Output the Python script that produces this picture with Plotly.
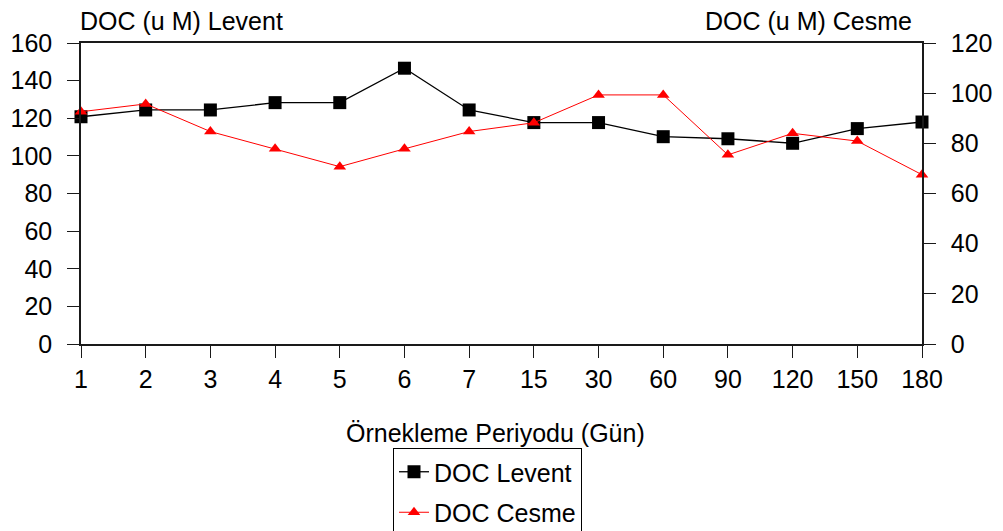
import plotly.graph_objects as go

periods = ["1", "2", "3", "4", "5", "6", "7", "15", "30", "60", "90", "120", "150", "180"]
levent = [120.8, 124.4, 124.4, 128.3, 128.3, 146.6, 124.4, 117.7, 117.7, 110.2, 109.1, 106.7, 114.5, 118.0]
cesme = [92.6, 95.7, 84.7, 77.8, 70.7, 77.8, 84.7, 88.2, 99.3, 99.3, 75.4, 84.0, 80.9, 67.5]

left_ticks = [0, 20, 40, 60, 80, 100, 120, 140, 160]
right_ticks = [0, 20, 40, 60, 80, 100, 120]

FONT = "Liberation Sans, Arial, sans-serif"
FS = 25
AX = "#1a1a1a"

fig = go.Figure()
fig.add_trace(go.Scatter(
    x=periods, y=levent, name="DOC Levent", mode="lines+markers",
    line=dict(color="black", width=1.3),
    marker=dict(symbol="square", size=13, color="black"),
    legendgroup="a", yaxis="y", cliponaxis=False,
))
fig.add_trace(go.Scatter(
    x=periods, y=cesme, name="DOC Cesme", mode="lines+markers",
    line=dict(color="#ff0000", width=1),
    marker=dict(symbol="triangle-up", size=11, color="#ff0000"),
    legendgroup="b", yaxis="y2", cliponaxis=False,
))

L, R, T, B = 81, 81, 43, 187
W, H = 1003, 531
ph = H - T - B

def py(px):
    return (H - B - px) / ph

def pxx(px):
    return (px - L) / (W - L - R)

fig.update_layout(
    width=W, height=H,
    margin=dict(l=L, r=R, t=T, b=B, autoexpand=False),
    paper_bgcolor="white", plot_bgcolor="white",
    font=dict(family=FONT, size=FS, color="black"),
    showlegend=True,
    legend=dict(
        x=pxx(393), y=py(448), xanchor="left", yanchor="top",
        xref="paper", yref="paper",
        bordercolor="black", borderwidth=1, bgcolor="white",
        font=dict(family=FONT, size=FS, color="black"),
        tracegroupgap=5, itemwidth=30,
    ),
    xaxis=dict(
        type="category", range=[0, len(periods) - 1],
        showline=True, linecolor=AX, linewidth=1.5, mirror=True,
        ticks="outside", ticklen=12, tickwidth=1.3, tickcolor=AX,
        showgrid=False, zeroline=False,
        tickfont=dict(family=FONT, size=FS, color="black"),
    ),
    yaxis=dict(
        range=[0, 160], tickvals=left_ticks,
        showline=True, linecolor=AX, linewidth=1.5,
        ticks="outside", ticklen=12, tickwidth=1.3, tickcolor=AX,
        showgrid=False, zeroline=False,
        tickfont=dict(family=FONT, size=FS, color="black"),
        ticklabelstandoff=10,
    ),
    yaxis2=dict(
        range=[0, 120], tickvals=right_ticks, overlaying="y", side="right",
        showline=True, linecolor=AX, linewidth=1.5,
        ticks="outside", ticklen=12, tickwidth=1.3, tickcolor=AX,
        showgrid=False, zeroline=False,
        tickfont=dict(family=FONT, size=FS, color="black"),
        ticklabelstandoff=10,
    ),
    annotations=[
        dict(text="DOC (u M) Levent", xref="paper", yref="paper",
             x=pxx(78), y=py(21), xanchor="left", yanchor="middle",
             showarrow=False, font=dict(family=FONT, size=FS)),
        dict(text="DOC (u M) Cesme", xref="paper", yref="paper",
             x=pxx(914), y=py(21), xanchor="right", yanchor="middle",
             showarrow=False, font=dict(family=FONT, size=FS)),
        dict(text="Örnekleme Periyodu (Gün)", xref="paper", yref="paper",
             x=pxx(495), y=py(433), xanchor="center", yanchor="middle",
             showarrow=False, font=dict(family=FONT, size=FS)),
    ],
)

fig.write_html("out.html")
